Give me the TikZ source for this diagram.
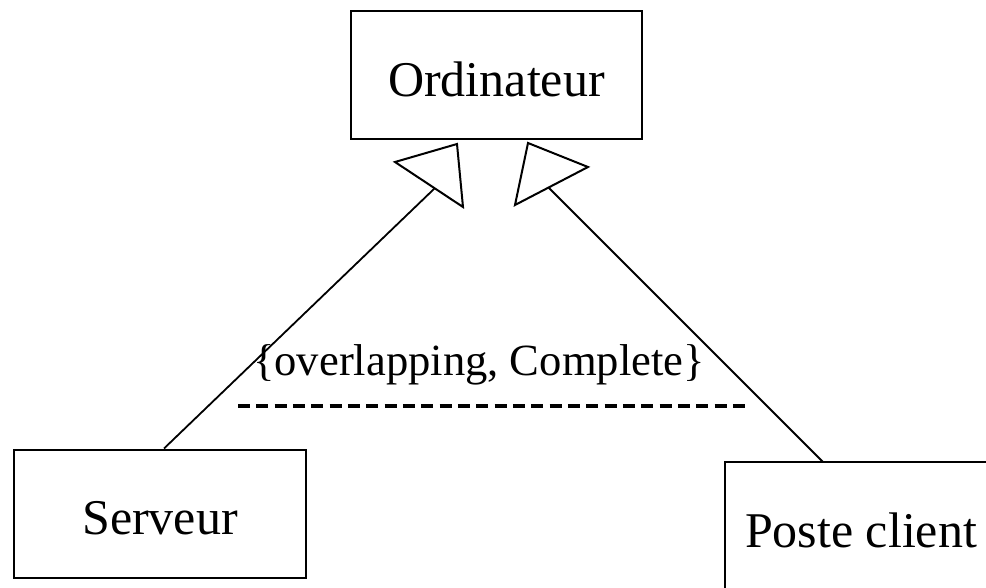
\documentclass[tikz,border=0pt]{standalone}
\usepackage{fontspec}
\usetikzlibrary{calc}
\setmainfont{Liberation Serif}
\begin{document}
\begin{tikzpicture}[x=1pt,y=-1pt,
  classbox/.style={draw, line width=2pt, inner sep=0pt, minimum height=128pt,
    text height=42pt, text depth=0pt, font=\fontsize{50}{60}\selectfont},
  link/.style={line width=1.8pt},
  gentip/.style={draw, line width=2pt, line join=miter, fill=white},
  constraint/.style={line width=3.5pt, dash pattern=on 12pt off 6.33pt},
  note/.style={font=\fontsize{44.6}{52}\selectfont, anchor=base, inner sep=0pt}]
\useasboundingbox (0,0) rectangle (986,587);
\clip (0,0) rectangle (986,587);

% classes
\node[classbox, minimum width=291pt] (ord) at (496.5,75) {Ordinateur};
\node[classbox, minimum width=292pt] (srv) at (160,513.5) {Serveur};
\node[classbox, minimum width=272pt] (pc) at (861,526) {Poste client};

% generalization triangles (hollow heads)
\coordinate (tL1) at (395,162);
\coordinate (tL2) at (457,144);
\coordinate (tL3) at (463,207);
\coordinate (tLb) at (435,188);
\coordinate (tR1) at (528,143);
\coordinate (tR2) at (588,167);
\coordinate (tR3) at (515,205);
\coordinate (tRb) at (548,187);
\coordinate (pcIn) at (823,462);

% inheritance links
\draw[link] ($(srv.north)+(4,0)$) -- (tLb);
\draw[link] (pcIn) -- (tRb);
\draw[gentip] (tL1) -- (tL2) -- (tL3) -- cycle;
\draw[gentip] (tR1) -- (tR2) -- (tR3) -- cycle;

% constraint on the generalization set
\node[note] (cst) at (479,375) {\{overlapping, Complete\}};
\coordinate (dA) at (238,406);
\coordinate (dB) at (745,406);
\draw[constraint] (dA) -- (dB);
\end{tikzpicture}
\end{document}
